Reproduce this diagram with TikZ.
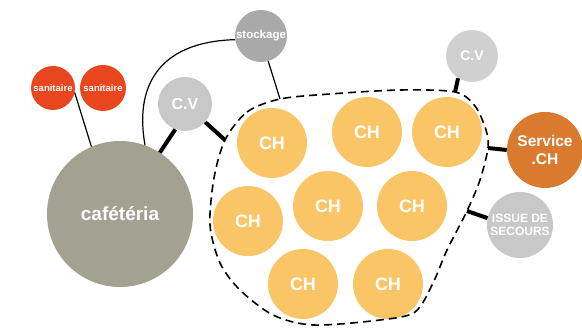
\documentclass[tikz,border=0pt]{standalone}
\usepackage{fontspec}
\setsansfont{Liberation Sans}
\usetikzlibrary{calc,positioning}

\definecolor{sanred}{HTML}{E8461F}
\definecolor{cafgray}{HTML}{A2A192}
\definecolor{cvgray}{HTML}{C8C8C8}
\definecolor{stogray}{HTML}{A9A9A9}
\definecolor{chyellow}{HTML}{F9C566}
\definecolor{serorange}{HTML}{D97A2E}

\begin{document}
\begin{tikzpicture}[x=1pt,y=-1pt,
bubble/.style={circle,inner sep=0pt,text=white,font=\sffamily\bfseries,align=center},
room/.style={bubble,fill=chyellow,minimum size=70pt,font=\sffamily\bfseries\fontsize{18}{18}\selectfont},
link/.style={line width=1.2pt},
tie/.style={line width=4pt}]
\useasboundingbox (0,0) rectangle (582,328);
% poles autour de la zone chambres
\node[bubble,fill=sanred,minimum size=44pt,font=\sffamily\bfseries\fontsize{9.5}{10}\selectfont] (S1) at (53,88) {sanitaire};
\node[bubble,fill=sanred,minimum size=46pt,font=\sffamily\bfseries\fontsize{9.5}{10}\selectfont] (S2) at (103,88) {sanitaire};
\node[bubble,fill=cafgray,minimum size=146pt,font=\sffamily\bfseries\fontsize{19}{20}\selectfont] (Caf) at (120,214) {caf\'et\'eria};
\node[bubble,fill=stogray,minimum size=52pt,font=\sffamily\bfseries\fontsize{11.5}{12}\selectfont] (Sto) at (261,36) {stockage};
\node[bubble,fill=cvgray,minimum size=54pt,font=\sffamily\bfseries\fontsize{16}{16}\selectfont] (CV1) at (185,104) {C.V};
\node[bubble,fill=cvgray!85,minimum size=52pt,font=\sffamily\bfseries\fontsize{14}{14}\selectfont] (CV2) at (472,56) {C.V};
\node[bubble,fill=serorange,minimum size=76pt,font=\sffamily\bfseries\fontsize{15.5}{18}\selectfont] (Ser) at (545,150) {Service\\.CH};
\node[bubble,fill=cvgray,minimum size=66pt,font=\sffamily\bfseries\fontsize{12}{13}\selectfont] (Iss) at (520,225) {ISSUE DE\\SECOURS};
% chambres
\node[room] (CH1) at (272,143) {CH};
\node[room] (CH2) at (367,132) {CH};
\node[room] (CH3) at (447,132) {CH};
\node[room] (CH4) at (248,221) {CH};
\node[room] (CH5) at (328,206) {CH};
\node[room] (CH6) at (412,206) {CH};
\node[room] (CH7) at (303,284) {CH};
\node[room] (CH8) at (388,284) {CH};
% limite de la zone
\draw[dashed,line width=1.6pt,dash pattern=on 8pt off 5pt] plot[smooth cycle] coordinates {
(225,140) (247,112) (280,99) (330,94) (400,90) (455,92) (475,106) (486,130)
(488,148) (480,180) (467,211) (447,250) (433,283) (415,312) (380,320) (313,325)
(273,315) (240,290) (220,263) (210,225) (214,178)};
\coordinate (B1) at (280,99);
\coordinate (B2) at (225,140);
\coordinate (B3) at (455,92);
\coordinate (B4) at (488,148);
\coordinate (B5) at (467,211);
% liaisons
\draw[link] (S1.-12)--(Caf.113);
\draw[link] (Sto.188) .. controls (155,42) and (135,90) .. (Caf.70);
\draw[link] (Sto.-74)--(B1);
\draw[tie] (CV1.-111)--(Caf.57);
\draw[tie] (CV1.-42)--(B2);
\draw[tie] (CV2.-122)--(B3);
\draw[tie] (Ser.west)--(B4);
\draw[tie] (Iss.168)--(B5);
\end{tikzpicture}
\end{document}
